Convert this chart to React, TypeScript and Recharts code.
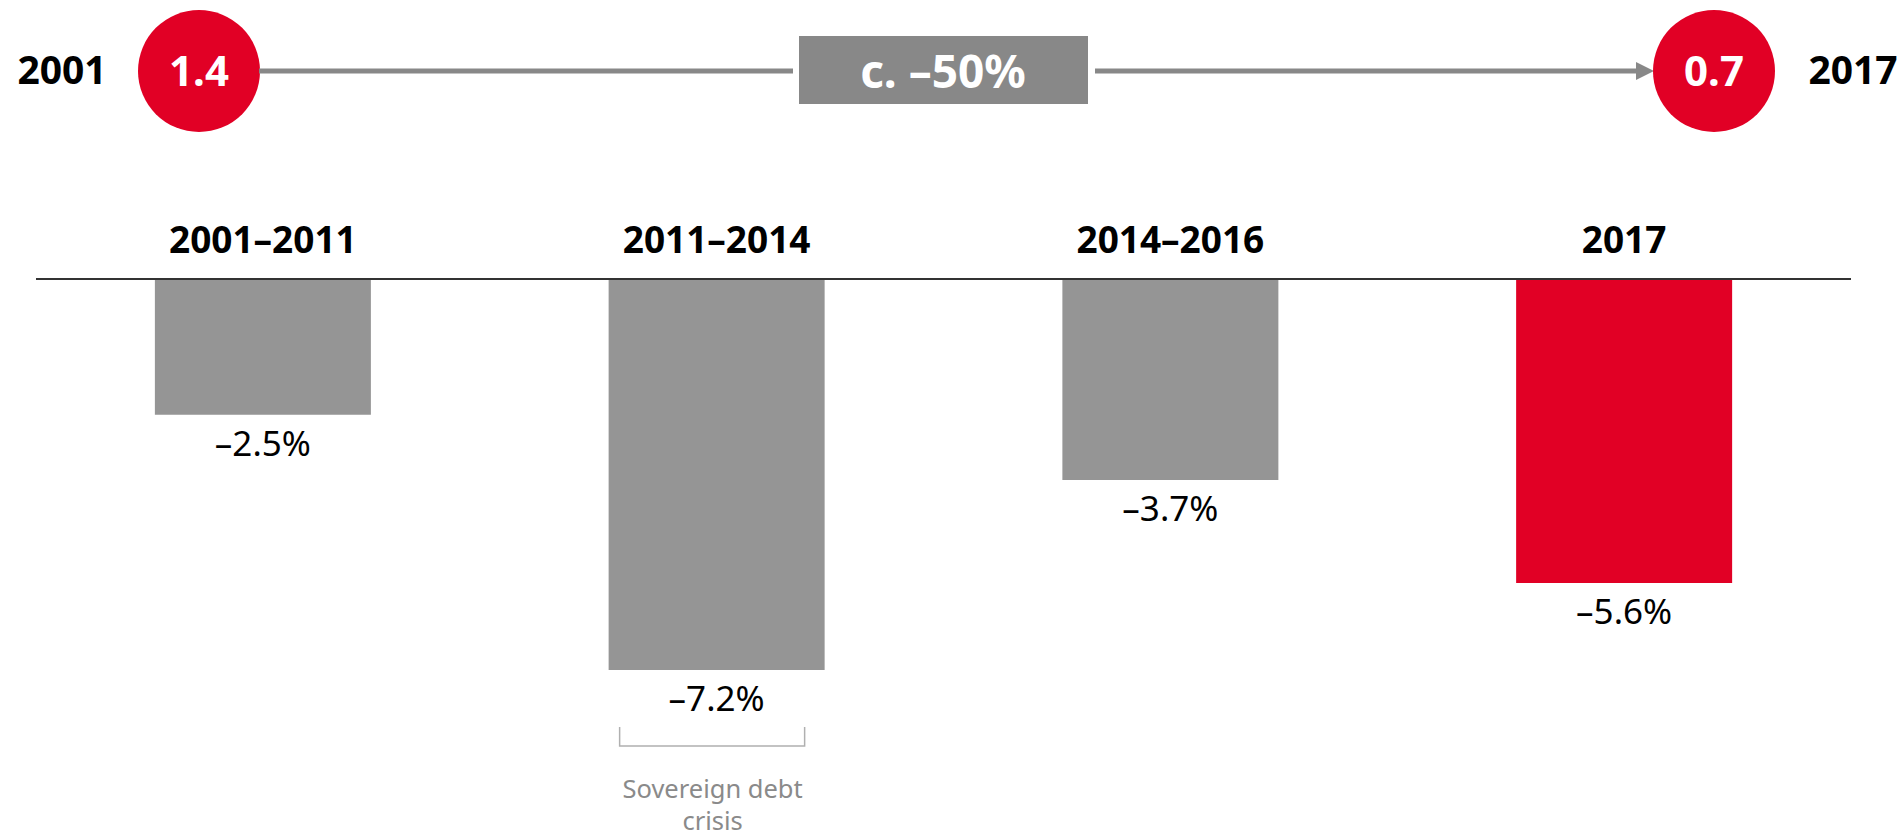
import React from "react";
import { BarChart, Bar, XAxis, YAxis, Cell, LabelList } from "recharts";

const periods = ["2001–2011", "2011–2014", "2014–2016", "2017"];
const changes = [-2.5, -7.2, -3.7, -5.6];
const barColors = ["#959595", "#959595", "#959595", "#E10025"];
const startPoint = { year: "2001", value: "1.4" };
const endPoint = { year: "2017", value: "0.7" };
const overallChange = "c. –50%";
const annotationIndex = 1;
const annotationLines = ["Sovereign debt", "crisis"];

const data = periods.map((p, i) => ({ period: p, change: changes[i] }));

const FONT = "'Noto Sans', 'Open Sans', sans-serif";

const fmt = (v: number) => `${v < 0 ? "–" : ""}${Math.abs(v).toFixed(1)}%`;

const CategoryTick = (props: any) => {
  const { x, y, payload } = props;
  return (
    <text x={x} y={y} textAnchor="middle" fontFamily={FONT} fontWeight={700} fontSize={37} fill="#000">
      {payload.value}
    </text>
  );
};

const ValueLabel = (props: any) => {
  const { x, y, width, height, value, index } = props;
  const bottom = Math.max(y, y + height);
  const cx = x + width / 2;
  return (
    <g>
      <text x={cx} y={bottom + 41} textAnchor="middle" fontFamily={FONT} fontSize={35} fill="#000">
        {fmt(value)}
      </text>
      {index === annotationIndex && (
        <g>
          <path
            d={`M${x + 11},${bottom + 57} L${x + 11},${bottom + 76} L${x + width - 20},${bottom + 76} L${x + width - 20},${bottom + 57}`}
            fill="none"
            stroke="#b0b0b0"
            strokeWidth={1.5}
          />
          <text textAnchor="middle" fontFamily={FONT} fontSize={25.5} fill="#8a8a8a">
            {annotationLines.map((t, k) => (
              <tspan key={k} x={cx - 4} y={bottom + 128 + k * 32}>
                {t}
              </tspan>
            ))}
          </text>
        </g>
      )}
    </g>
  );
};

const TopRow = () => (
  <svg width={1903} height={150} style={{ position: "absolute", left: 0, top: 0 }}>
    <text x={62} y={84} textAnchor="middle" fontFamily={FONT} fontWeight={700} fontSize={39} fill="#000">
      {startPoint.year}
    </text>
    <circle cx={199} cy={71} r={61} fill="#E10025" />
    <text x={199} y={86} textAnchor="middle" fontFamily={FONT} fontWeight={700} fontSize={42} fill="#fff">
      {startPoint.value}
    </text>
    <line x1={259} y1={71} x2={793} y2={71} stroke="#888" strokeWidth={5} />
    <rect x={799} y={36} width={289} height={68} fill="#888" />
    <text x={943} y={88} textAnchor="middle" fontFamily={FONT} fontWeight={700} fontSize={46} fill="#fff">
      {overallChange}
    </text>
    <line x1={1095} y1={71} x2={1638} y2={71} stroke="#888" strokeWidth={5} />
    <polygon points="1636,62 1654,71 1636,80" fill="#888" />
    <circle cx={1714} cy={71} r={61} fill="#E10025" />
    <text x={1714} y={86} textAnchor="middle" fontFamily={FONT} fontWeight={700} fontSize={42} fill="#fff">
      {endPoint.value}
    </text>
    <text x={1853} y={84} textAnchor="middle" fontFamily={FONT} fontWeight={700} fontSize={39} fill="#000">
      {endPoint.year}
    </text>
  </svg>
);

export default function App() {
  return (
    <div style={{ position: "absolute", left: 0, top: 0, width: 1903, height: 839, background: "#fff" }}>
      <BarChart
        width={1903}
        height={839}
        data={data}
        margin={{ top: 219, right: 52, bottom: 125.6, left: 36 }}
        barCategoryGap="26.2%"
      >
        <XAxis
          dataKey="period"
          orientation="top"
          height={60}
          axisLine={{ stroke: "#333", strokeWidth: 2 }}
          tickLine={false}
          tickSize={0}
          tickMargin={26}
          interval={0}
          tick={<CategoryTick />}
        />
        <YAxis hide domain={[-8, 0]} />
        <Bar dataKey="change" isAnimationActive={false}>
          {data.map((d, i) => (
            <Cell key={i} fill={barColors[i]} />
          ))}
          <LabelList dataKey="change" content={<ValueLabel />} />
        </Bar>
      </BarChart>
      <TopRow />
    </div>
  );
}
